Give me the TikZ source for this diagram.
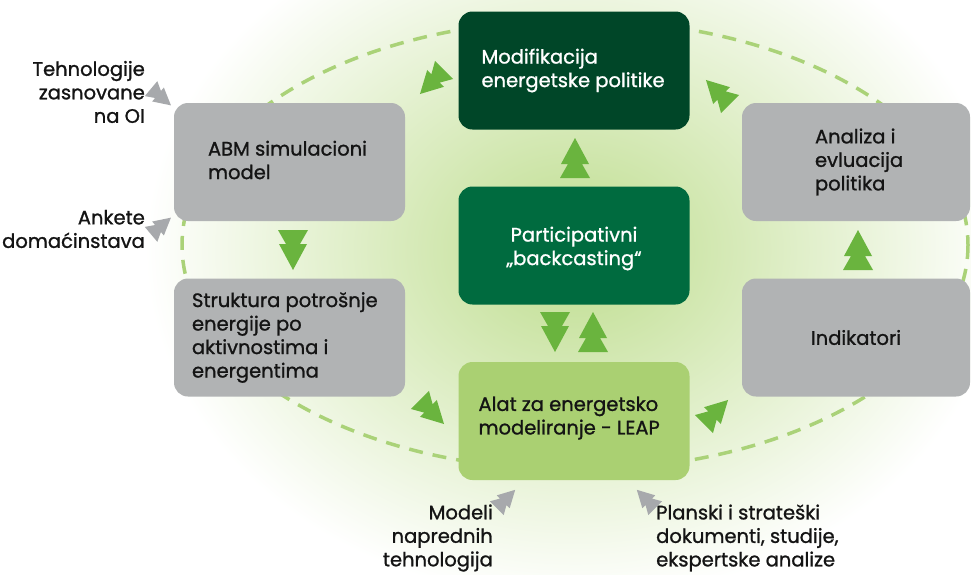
\documentclass[tikz,border=0pt]{standalone}
\usepackage{fontspec}
\setmainfont{Poppins}[FakeBold=1.1]
\definecolor{dkgreen}{RGB}{0,70,40}
\definecolor{midgreen}{RGB}{0,107,63}
\definecolor{ltgreen}{RGB}{170,208,114}
\definecolor{boxgray}{RGB}{177,179,180}
\definecolor{arrg}{RGB}{106,180,62}
\definecolor{arrgray}{RGB}{167,169,172}
\definecolor{dashcol}{RGB}{170,210,120}
\definecolor{glow}{RGB}{190,221,142}
\definecolor{txtdark}{RGB}{20,20,20}
\begin{document}
\begin{tikzpicture}[x=1pt,y=-1pt,
  box/.style={rectangle, rounded corners=14pt, minimum width=231pt, minimum height=118pt, inner sep=0pt},
  txt/.style={font=\fontsize{19.5}{23.5}\selectfont, inner sep=0pt, text=txtdark},
  dtri/.pic={\fill[pic actions] (20,0) -- (-6,14) -- (-6,7) -- (-20,15) -- (-20,-15) -- (-6,-7) -- (-6,-14) -- cycle;}
]
\useasboundingbox (0,0) rectangle (971,574);
\fill[white] (0,0) rectangle (971,574);
\begin{scope}
\clip (0,0) rectangle (971,574);
\shade[inner color=glow, outer color=white] (575,250) ellipse [x radius=430, y radius=350];
\draw[dashcol, line width=3.5pt, dash pattern=on 14pt off 10pt] (575,245) ellipse [x radius=393, y radius=225];
\end{scope}

% boxes
\node[box, fill=dkgreen] (mod) at (574,70.5) {};
\node[box, fill=midgreen] (par) at (574,245.5) {};
\node[box, fill=ltgreen] (alat) at (574,421) {};
\node[box, fill=boxgray] (abm) at (289.5,162) {};
\node[box, fill=boxgray] (str) at (289.5,337.5) {};
\node[box, fill=boxgray, minimum width=228pt] (ana) at (856,162) {};
\node[box, fill=boxgray, minimum width=228pt] (ind) at (856,337.5) {};

% texts
\node[txt, text=white, anchor=west, align=left] (modt) at ([xshift=23]mod.west) {Modifikacija\\energetske politike};
\node[txt, text=white, align=center] (part) at ([yshift=-3]par.center) {Participativni\\„backcasting“};
\node[txt, anchor=west, align=left] (alatt) at ([xshift=20, yshift=3]alat.west) {Alat za energetsko\\modeliranje - LEAP};
\node[txt, anchor=west, align=left] (abmt) at ([xshift=34, yshift=2]abm.west) {ABM simulacioni\\model};
\node[txt, anchor=west, align=left] (strt) at ([xshift=18]str.west) {Struktura potrošnje\\energije po\\aktivnostima i\\energentima};
\node[txt, anchor=west, align=left] (anat) at ([xshift=73]ana.west) {Analiza i\\evluacija\\politika};
\node[txt] (indt) at (ind.center) {Indikatori};

% outer labels
\node[txt, anchor=east, align=right] (teh) at (145,92) {Tehnologije\\zasnovane\\na OI};
\node[txt, anchor=east, align=right] (ank) at (145,229) {Ankete\\domaćinstava};
\node[txt, anchor=east, align=right] (mdl) at (493,538) {Modeli\\naprednih\\tehnologija};
\node[txt, anchor=west, align=left] (pla) at (656,538) {Planski i strateški\\dokumenti, studije,\\ekspertske analize};

% green arrows
\pic[fill=arrg, rotate=90] at (575,158) {dtri};
\pic[fill=arrg, rotate=-90] at (555,332) {dtri};
\pic[fill=arrg, rotate=90] at (593,332) {dtri};
\pic[fill=arrg, rotate=-90] at (293,250) {dtri};
\pic[fill=arrg, rotate=90] at (858,250) {dtri};
\pic[fill=arrg, rotate=225, scale=0.85] at (432,82) {dtri};
\pic[fill=arrg, rotate=135, scale=0.85] at (718,92) {dtri};
\pic[fill=arrg, rotate=-45, scale=0.85] at (432,412) {dtri};
\pic[fill=arrg, rotate=45, scale=0.85] at (716,412) {dtri};

% gray arrows
\pic[fill=arrgray, rotate=-40, scale=0.65] at (161,97) {dtri};
\pic[fill=arrgray, rotate=40, scale=0.65] at (161,226) {dtri};
\pic[fill=arrgray, rotate=45, scale=0.65] at (506,499) {dtri};
\pic[fill=arrgray, rotate=135, scale=0.65] at (646,499) {dtri};
\end{tikzpicture}
\end{document}
